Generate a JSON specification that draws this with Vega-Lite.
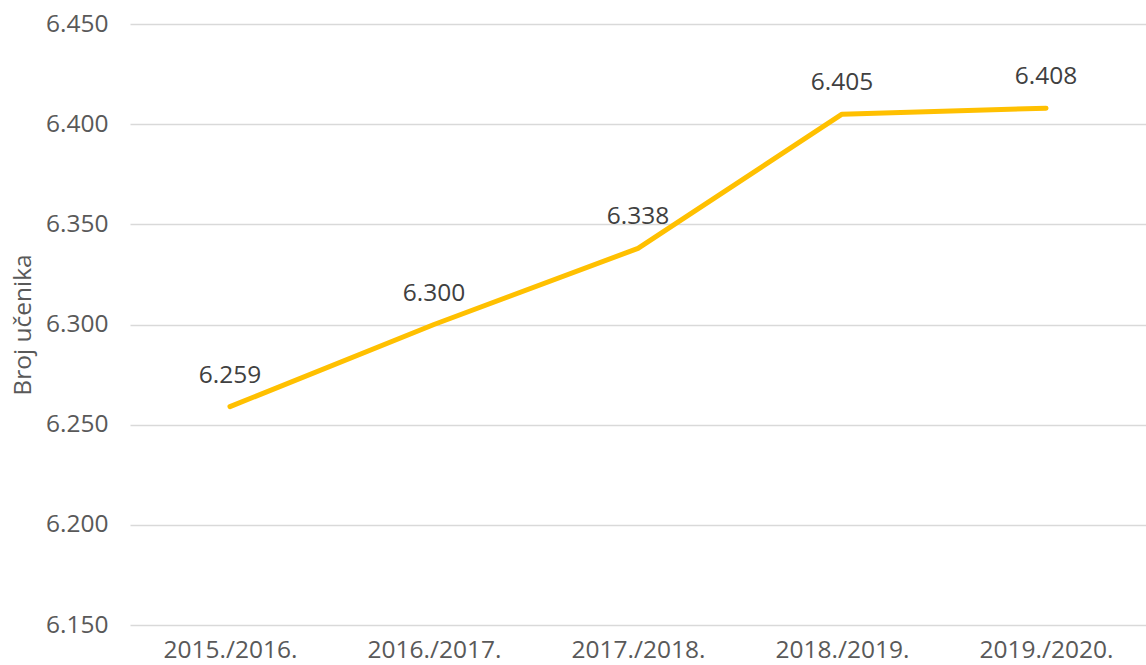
{
  "$schema": "https://vega.github.io/schema/vega-lite/v6.json",
  "autosize": {"type": "none"},
  "padding": {"left": 130, "top": 24, "right": 0, "bottom": 40},
  "width": 1016,
  "height": 601,
  "background": "white",
  "config": {
    "view": {"stroke": null},
    "locale": {"number": {"decimal": ",", "thousands": ".", "grouping": [3], "currency": ["", ""]}},
    "font": "Open Sans"
  },
  "data": {"values": [
    {"godina": "2015./2016.", "ucenici": 6259},
    {"godina": "2016./2017.", "ucenici": 6300},
    {"godina": "2017./2018.", "ucenici": 6338},
    {"godina": "2018./2019.", "ucenici": 6405},
    {"godina": "2019./2020.", "ucenici": 6408}
  ]},
  "encoding": {
    "x": {
      "field": "godina", "type": "ordinal", "sort": null,
      "scale": {"type": "point", "padding": 0.49},
      "axis": {"title": null, "labelAngle": 0, "domain": false, "ticks": false, "grid": false,
               "labelFont": "Open Sans", "labelFontSize": 24.5, "labelColor": "#595959", "labelPadding": 13}
    },
    "y": {
      "field": "ucenici", "type": "quantitative",
      "scale": {"domain": [6150, 6450], "nice": false, "zero": false},
      "axis": {"title": "Broj učenika", "values": [6150, 6200, 6250, 6300, 6350, 6400, 6450],
               "format": ",d", "domain": false, "ticks": false, "grid": true, "gridColor": "#D9D9D9", "gridWidth": 1.5,
               "labelFont": "Open Sans", "labelFontSize": 24.5, "labelColor": "#595959", "labelPadding": 22,
               "titleFont": "Open Sans", "titleFontSize": 24.5, "titleFontWeight": "normal", "titleColor": "#595959", "titlePadding": 10}
    }
  },
  "layer": [
    {"mark": {"type": "line", "color": "#FFC000", "strokeWidth": 5, "strokeCap": "round", "strokeJoin": "round"}},
    {"mark": {"type": "text", "dy": -24, "baseline": "alphabetic", "align": "center", "fontSize": 24.5, "color": "#404040", "font": "Open Sans"},
     "encoding": {"text": {"field": "ucenici", "type": "quantitative", "format": ",d"}}}
  ]
}
